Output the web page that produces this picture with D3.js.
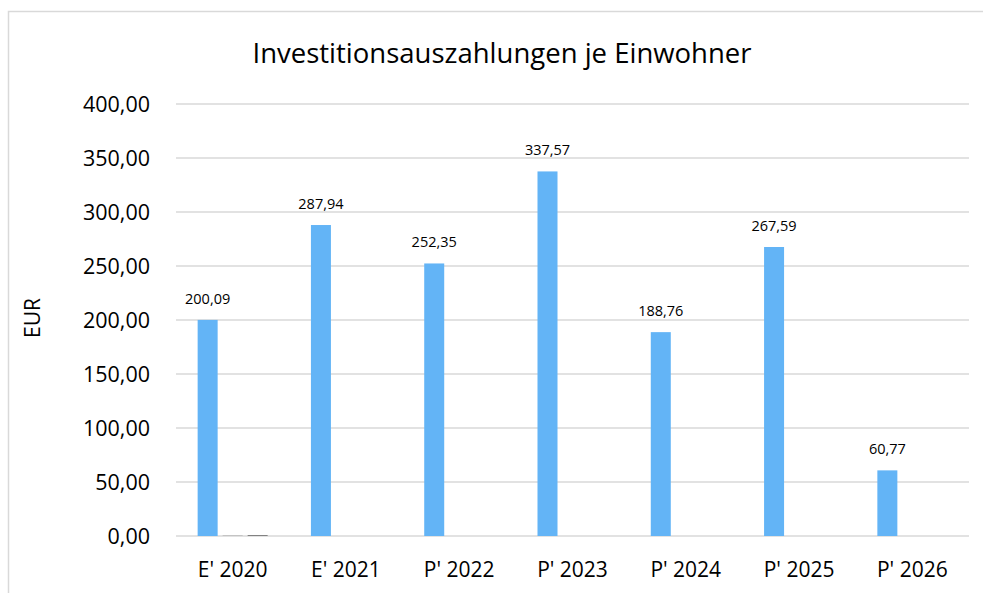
<!DOCTYPE html>
<html>
  <head>
    <meta charset="utf-8">
    <script src="https://d3js.org/d3.v7.min.js" charset="utf-8"></script>
    <style>
      body { margin: 0; background: #fff; }
      text { font-family: "Open Sans", "Noto Sans", sans-serif; fill: #000; }
    </style>
  </head>
  <body>
    <script type="text/javascript">

var categories = ["E' 2020", "E' 2021", "P' 2022", "P' 2023", "P' 2024", "P' 2025", "P' 2026"];
var series1 = [200.09, 287.94, 252.35, 337.57, 188.76, 267.59, 60.77];
var series2 = [0.9, 0, 0, 0, 0, 0, 0];
var series3 = [0.9, 0, 0, 0, 0, 0, 0];
var yTicks = [0, 50, 100, 150, 200, 250, 300, 350, 400];
var seriesColors = ["#63b4f6", "#c3c3c3", "#7f7f7f"];

var w = 983;
var h = 593;

var fmt = function(v) { return d3.format(".2f")(v).replace(".", ","); };

var svg =
  d3.select("body")
    .append("svg")
    .attr("width", w)
    .attr("height", h);

// chart border
svg.append("rect")
    .attr("x", 8.5).attr("y", 11.5)
    .attr("width", 990).attr("height", 600)
    .style("fill", "none")
    .style("stroke", "#d9d9d9")
    .style("stroke-width", 1.5);

var x = d3.scaleBand()
    .domain(categories)
    .range([176, 969]);

var y = d3.scaleLinear()
    .domain([0, 400])
    .range([536, 104]);

var xs = d3.scaleBand()
    .domain([0, 1, 2])
    .range([-35, 35])
    .paddingInner(0.2);

// grid
svg.selectAll("line.grid")
    .data(yTicks)
    .enter()
    .append("line")
    .attr("class", "grid")
    .attr("x1", 176).attr("x2", 969)
    .attr("y1", function(d) { return y(d); })
    .attr("y2", function(d) { return y(d); })
    .style("stroke", "#d9d9d9")
    .style("stroke-width", 1.5);

// y labels
svg.selectAll("text.ylab")
    .data(yTicks)
    .enter()
    .append("text")
    .attr("class", "ylab")
    .attr("x", 150)
    .attr("y", function(d) { return y(d); })
    .attr("dy", "0.35em")
    .attr("text-anchor", "end")
    .style("font-size", "21.5px")
    .text(fmt);

svg.append("text")
    .attr("transform", "translate(40,318) rotate(-90)")
    .attr("text-anchor", "middle")
    .style("font-size", "21px")
    .text("EUR");

// x labels
svg.selectAll("text.xlab")
    .data(categories)
    .enter()
    .append("text")
    .attr("class", "xlab")
    .attr("x", function(d) { return x(d) + x.bandwidth() / 2; })
    .attr("y", 577)
    .attr("text-anchor", "middle")
    .style("font-size", "21px")
    .text(function(d) { return d; });

// bars
var allSeries = [series1, series2, series3];
allSeries.forEach(function(vals, si) {
  svg.selectAll("rect.s" + si)
      .data(vals.map(function(v, i) { return { cat: categories[i], v: v }; }).filter(function(d) { return d.v > 0; }))
      .enter()
      .append("rect")
      .attr("class", "s" + si)
      .attr("x", function(d) { return x(d.cat) + x.bandwidth() / 2 + xs(si); })
      .attr("width", xs.bandwidth())
      .attr("y", function(d) { return y(d.v); })
      .attr("height", function(d) { return y(0) - y(d.v); })
      .style("fill", seriesColors[si]);
});

// data labels
svg.selectAll("text.dlab")
    .data(series1)
    .enter()
    .append("text")
    .attr("class", "dlab")
    .attr("x", function(d, i) { return x(categories[i]) + x.bandwidth() / 2 + xs(0) + xs.bandwidth() / 2; })
    .attr("y", function(d) { return y(d) - 16; })
    .attr("text-anchor", "middle")
    .style("font-size", "14.5px")
    .text(fmt);

svg.append("text")
    .attr("x", 502)
    .attr("y", 63)
    .attr("text-anchor", "middle")
    .style("font-size", "27.5px")
    .text("Investitionsauszahlungen je Einwohner");

    </script>
  </body>
</html>
